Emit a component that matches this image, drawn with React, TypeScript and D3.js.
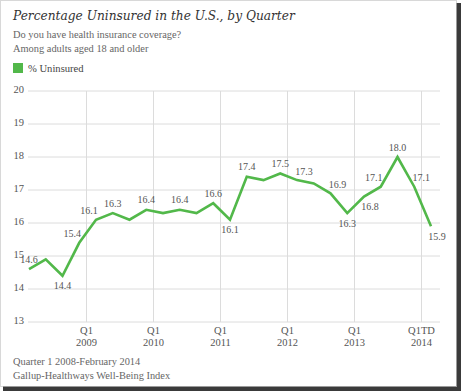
import React from "react";
import * as d3 from "d3";

// quarterly % uninsured, Q1 2008 .. Q1TD 2014
const values = [
  14.6, 14.9, 14.4, 15.4, 16.1, 16.3, 16.1, 16.4, 16.3, 16.4, 16.3, 16.6, 16.1,
  17.4, 17.3, 17.5, 17.3, 17.2, 16.9, 16.3, 16.8, 17.1, 18.0, 17.1, 15.9,
];

// which points get a value label, and where it sits
const labelled = [
  { i: 0, pos: "up" },
  { i: 2, pos: "down" },
  { i: 3, pos: "upleft" },
  { i: 4, pos: "upleft" },
  { i: 5, pos: "up" },
  { i: 7, pos: "up" },
  { i: 9, pos: "up" },
  { i: 11, pos: "up" },
  { i: 12, pos: "down" },
  { i: 13, pos: "up" },
  { i: 15, pos: "up" },
  { i: 16, pos: "upright" },
  { i: 18, pos: "upright" },
  { i: 19, pos: "down" },
  { i: 20, pos: "downright" },
  { i: 21, pos: "upleft" },
  { i: 22, pos: "up" },
  { i: 23, pos: "upright" },
  { i: 24, pos: "downright" },
];

const yTicks = [13, 14, 15, 16, 17, 18, 19, 20];
const xTickIndex = [4, 8, 12, 16, 20, 24];
const xTickTop = ["Q1", "Q1", "Q1", "Q1", "Q1", "Q1TD"];
const xTickBottom = ["2009", "2010", "2011", "2012", "2013", "2014"];

const W = 461;
const H = 391;
const green = "#52b84a";
const font = "'Liberation Serif', Georgia, serif";
const titleFont = "'DejaVu Serif', Georgia, serif";

const offsets: Record<string, [number, number]> = {
  up: [0, -10],
  down: [0, 10],
  upleft: [-7, -9],
  upright: [7, -9],
  downright: [6, 10],
};

export default function App() {
  const x = d3.scaleLinear().domain([0, 24]).range([29, 431]);
  const y = d3.scaleLinear().domain([13, 20]).range([322, 91]);
  const gridShift = 0.6;

  const line = d3
    .line<number>()
    .x((_, i) => x(i))
    .y((d) => y(d));

  return (
    <svg
      width={W}
      height={H}
      style={{ position: "absolute", left: 0, top: 0, background: "#fff" }}
      fontFamily={font}
    >
      {/* frame + shadow */}
      <rect x={0.5} y={0.5} width={456} height={386} fill="#fff" stroke="#d8d8d8" />
      <rect x={457} y={3} width={4} height={388} fill="#3a3a3a" />
      <rect x={3} y={387} width={458} height={4} fill="#3a3a3a" />
      <rect x={456} y={3} width={1} height={384} fill="#9a9a9a" />
      <rect x={3} y={386} width={454} height={1} fill="#9a9a9a" />

      <text x={13} y={20} fontSize={12.2} fontStyle="italic" fill="#333" fontFamily={titleFont}>
        Percentage Uninsured in the U.S., by Quarter
      </text>
      <text x={13} y={38} fontSize={10.4} fill="#666">
        Do you have health insurance coverage?
      </text>
      <text x={13} y={52} fontSize={10.4} fill="#666">
        Among adults aged 18 and older
      </text>
      <rect x={13} y={63} width={10} height={10} fill={green} />
      <text x={28} y={72} fontSize={10.6} fill="#444">
        % Uninsured
      </text>

      {/* horizontal grid + y labels */}
      {yTicks.map((t) => (
        <g key={t}>
          <line x1={28} x2={440} y1={y(t)} y2={y(t)} stroke="#dcdcdc" strokeWidth={1} />
          <text x={24} y={y(t)} dy="0.2em" textAnchor="end" fontSize={10.5} fill="#555">
            {t}
          </text>
        </g>
      ))}

      {/* vertical grid + x labels */}
      {xTickIndex.map((q, k) => {
        const gx = Math.round(x(q - gridShift)) + 0.5;
        return (
          <g key={q}>
            <line x1={gx} x2={gx} y1={y(20)} y2={y(13)} stroke="#dcdcdc" strokeWidth={1} />
            <text x={gx} y={334} textAnchor="middle" fontSize={10.5} fill="#555">
              {xTickTop[k]}
            </text>
            <text x={gx} y={346} textAnchor="middle" fontSize={10.5} fill="#555">
              {xTickBottom[k]}
            </text>
          </g>
        );
      })}

      <path
        d={line(values) ?? ""}
        fill="none"
        stroke={green}
        strokeWidth={2.6}
        strokeLinejoin="miter"
      />

      {labelled.map(({ i, pos }) => {
        const [dx, dy] = offsets[pos];
        return (
          <text
            key={i}
            x={x(i) + dx}
            y={y(values[i]) + dy}
            dy="0.35em"
            textAnchor="middle"
            fontSize={10}
            fill="#555"
          >
            {values[i].toFixed(1)}
          </text>
        );
      })}

      <text x={13} y={365} fontSize={10.4} fill="#666">
        Quarter 1 2008-February 2014
      </text>
      <text x={13} y={379} fontSize={10.4} fill="#666">
        Gallup-Healthways Well-Being Index
      </text>
    </svg>
  );
}
